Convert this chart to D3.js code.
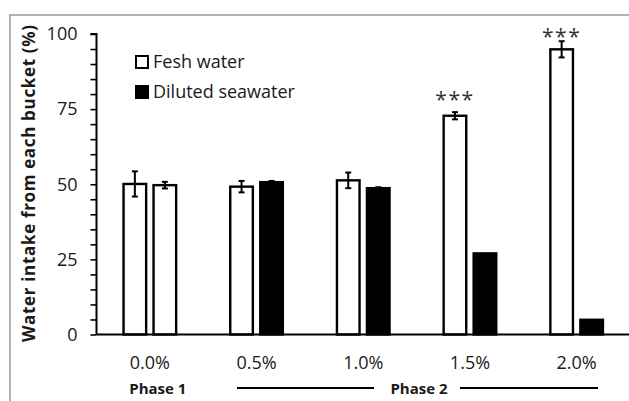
<!DOCTYPE html>
<html><head><meta charset="utf-8">
<script src="https://cdn.jsdelivr.net/npm/d3@7"></script>
<style>
body{margin:0;background:#fff;}
svg{display:block;font-family:"Open Sans",sans-serif;}
</style></head>
<body><svg id="c" width="629" height="401"></svg>
<script>
const categories = ["0.0%", "0.5%", "1.0%", "1.5%", "2.0%"];
const freshMeans = [50.1, 49.2, 51.3, 72.8, 94.9];
const freshErr = [4.2, 1.9, 2.6, 1.2, 2.7];
const secondMeans = [49.7, 50.7, 48.7, 27.0, 4.9];
const secondErr = [1.1, 0.4, 0.3, 0, 0];
const secondType = ["Fesh water", "Diluted seawater", "Diluted seawater", "Diluted seawater", "Diluted seawater"];
const seriesNames = ["Fesh water", "Diluted seawater"];
const sigLabels = ["", "", "", "***", "***"];
const sigAt = [null, null, null, 79, 100];
const yTicks = d3.range(0, 101, 5);
const yLabelTicks = [0, 25, 50, 75, 100];
const phases = ["Phase 1", "Phase 2"];

const svg = d3.select("#c");
const x0 = 96.5, x1 = 630, yTop = 34, yBot = 334.5;

// frame
svg.append("path").attr("d", `M10,401V15H629`).attr("fill", "none")
  .attr("stroke", "#999").attr("stroke-width", 1.5);

const x = d3.scaleBand().domain(categories).range([x0, x1]).padding(0);
const xs = d3.scaleBand().domain([0, 1]).range([-27.5, 27.5]).paddingInner(1/6).paddingOuter(0);
const y = d3.scaleLinear().domain([0, 100]).range([yBot, yTop]);
const color = d3.scaleOrdinal().domain(seriesNames).range(["#fff", "#000"]);

const rows = [];
categories.forEach((c, i) => {
  rows.push({c, k: 0, v: freshMeans[i], e: freshErr[i], t: "Fesh water"});
  rows.push({c, k: 1, v: secondMeans[i], e: secondErr[i], t: secondType[i]});
});

const sw = 2.4;
const g = svg.append("g");
g.selectAll("rect.bar").data(rows).join("rect").attr("class", "bar")
  .attr("x", d => x(d.c) + x.bandwidth()/2 + xs(d.k) + sw/2)
  .attr("width", xs.bandwidth() - sw)
  .attr("y", d => y(d.v))
  .attr("height", d => yBot - y(d.v))
  .attr("fill", d => color(d.t))
  .attr("stroke", "#000").attr("stroke-width", sw);

// error bars
const eb = g.selectAll("g.err").data(rows.filter(d => d.e > 0)).join("g").attr("class", "err")
  .attr("transform", d => `translate(${x(d.c) + x.bandwidth()/2 + xs(d.k) + xs.bandwidth()/2},0)`);
eb.append("line").attr("y1", d => y(d.v + d.e)).attr("y2", d => y(d.v - d.e))
  .attr("stroke", "#000").attr("stroke-width", 2);
eb.append("line").attr("x1", -3).attr("x2", 3).attr("y1", d => y(d.v + d.e)).attr("y2", d => y(d.v + d.e))
  .attr("stroke", "#000").attr("stroke-width", 2);
eb.append("line").attr("x1", -3).attr("x2", 3).attr("y1", d => y(d.v - d.e)).attr("y2", d => y(d.v - d.e))
  .attr("stroke", "#000").attr("stroke-width", 2);

// significance
svg.selectAll("text.sig").data(categories.map((c, i) => ({c, s: sigLabels[i], at: sigAt[i]})).filter(d => d.s))
  .join("text").attr("class", "sig")
  .attr("x", d => x(d.c) + x.bandwidth()/2 + xs(0) + xs.bandwidth()/2)
  .attr("y", d => y(d.at) + 10)
  .attr("text-anchor", "middle").attr("font-size", 21).attr("letter-spacing", 1.5)
  .attr("fill", "#333").text(d => d.s);

// y axis
const ya = svg.append("g").attr("transform", `translate(${x0},0)`)
  .call(d3.axisLeft(y).tickValues(yTicks).tickSize(6).tickPadding(13)
    .tickFormat(d => yLabelTicks.includes(d) ? d : ""));
ya.select(".domain").attr("stroke-width", 2).attr("d", `M-6,${yTop}H0V${yBot}`);
ya.selectAll(".tick line").attr("stroke-width", 1.6);
ya.selectAll(".tick text").attr("font-size", 18).attr("font-family", "Open Sans").attr("fill", "#1a1a1a");

// x axis
const xa = svg.append("g").attr("transform", `translate(0,${yBot})`)
  .call(d3.axisBottom(x).tickSize(0).tickPadding(22));
xa.select(".domain").attr("stroke-width", 2).attr("d", `M${x0},0H629`);
xa.selectAll(".tick text").attr("font-size", 18).attr("font-family", "Open Sans").attr("fill", "#1a1a1a");

// phases
svg.append("text").attr("x", x("0.0%") + x.bandwidth()/2 + 8).attr("y", 394)
  .attr("text-anchor", "middle").attr("font-weight", "bold").attr("font-size", 15).attr("fill", "#1a1a1a").text(phases[0]);
svg.append("text").attr("x", 419).attr("y", 394)
  .attr("text-anchor", "middle").attr("font-weight", "bold").attr("font-size", 15).attr("fill", "#1a1a1a").text(phases[1]);
svg.append("line").attr("x1", 237).attr("x2", 374).attr("y1", 388).attr("y2", 388).attr("stroke", "#000").attr("stroke-width", 2);
svg.append("line").attr("x1", 460).attr("x2", 598).attr("y1", 388).attr("y2", 388).attr("stroke", "#000").attr("stroke-width", 2);

// y title
svg.append("text").attr("transform", "translate(35,183.5) rotate(-90)")
  .attr("text-anchor", "middle").attr("font-weight", "bold").attr("font-size", 17)
  .attr("textLength", 317).attr("lengthAdjust", "spacing")
  .attr("fill", "#1a1a1a").text("Water intake from each bucket (%)");

// legend
const lg = svg.append("g").selectAll("g").data(seriesNames).join("g")
  .attr("transform", (d, i) => `translate(136,${56 + i * 30})`);
lg.append("rect").attr("width", 12).attr("height", 12).attr("fill", d => color(d))
  .attr("stroke", "#000").attr("stroke-width", 2);
lg.append("text").attr("x", 17).attr("y", 11.5).attr("font-size", 18).attr("fill", "#1a1a1a").text(d => d);
</script></body></html>
